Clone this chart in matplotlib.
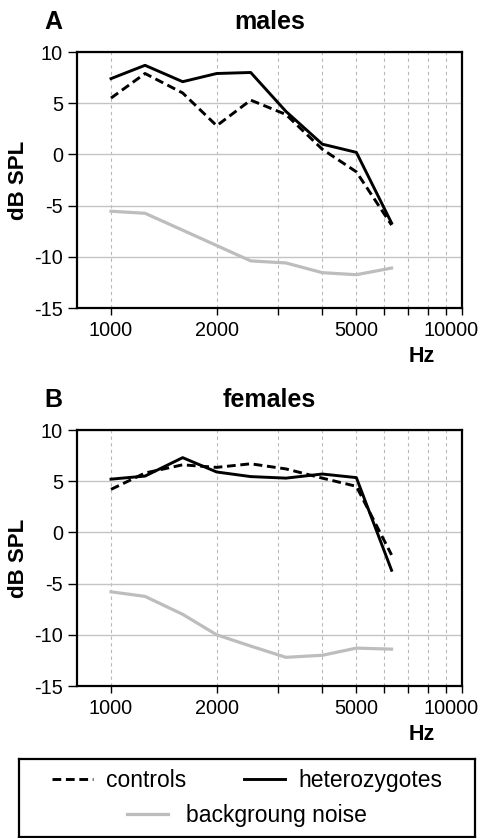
import matplotlib
matplotlib.use("Agg")
import matplotlib.pyplot as plt
from matplotlib.lines import Line2D
from matplotlib.ticker import FixedLocator, NullFormatter
from matplotlib.transforms import ScaledTranslation

plt.rcParams['font.family'] = ['Liberation Sans', 'DejaVu Sans']

# third-octave frequencies (Hz)
freqs = [1000, 1250, 1600, 2000, 2500, 3150, 4000, 5000, 6300]

males_ctrl = [5.5, 7.9, 6.0, 2.8, 5.3, 3.9, 0.5, -1.7, -6.9]
males_het = [7.4, 8.7, 7.1, 7.9, 8.0, 4.2, 1.0, 0.2, -6.7]
males_noise = [-5.55, -5.75, -7.4, -8.9, -10.4, -10.6, -11.55, -11.75, -11.1]

females_ctrl = [4.2, 5.8, 6.6, 6.35, 6.7, 6.2, 5.3, 4.5, -2.2]
females_het = [5.2, 5.5, 7.3, 5.9, 5.45, 5.3, 5.7, 5.35, -3.7]
females_noise = [-5.8, -6.25, -8.0, -10.0, -11.1, -12.2, -12.0, -11.3, -11.4]

x_major = [1000, 2000, 5000, 10000]
x_minor = [3000, 4000, 6000, 7000, 8000, 9000]
y_ticks = [-15, -10, -5, 0, 5, 10]

panels = [('A', 'males', males_ctrl, males_het, males_noise),
          ('B', 'females', females_ctrl, females_het, females_noise)]

W, H = 484, 838
fig = plt.figure(figsize=(W / 100, H / 100), dpi=100)

grey = '#bdbdbd'
dash = (0, (3.0, 1.6))

axes_rects = [(77, 52, 462, 308), (77, 430, 462, 686)]

for (letter, title, ctrl, het, noise), (x0, y0, x1, y1) in zip(panels, axes_rects):
    ax = fig.add_axes([x0 / W, 1 - y1 / H, (x1 - x0) / W, (y1 - y0) / H])
    ax.set_xscale('log')
    ax.set_xlim(800, 10000)
    ax.set_ylim(-15, 10)

    ax.plot(freqs, noise, color=grey, lw=2.3, solid_joinstyle='round', zorder=3)
    ax.plot(freqs, ctrl, color='black', lw=2.1, linestyle=dash, zorder=4)
    ax.plot(freqs, het, color='black', lw=2.1, zorder=5)

    ax.xaxis.set_major_locator(FixedLocator(x_major))
    ax.xaxis.set_minor_locator(FixedLocator(x_minor))
    ax.xaxis.set_minor_formatter(NullFormatter())
    ax.set_xticklabels([str(v) for v in x_major])
    ax.set_yticks(y_ticks)
    ax.set_yticklabels([str(v) for v in y_ticks])

    ax.tick_params(axis='both', which='both', direction='out', color='black',
                   labelsize=14.3, width=1.0)
    ax.tick_params(axis='y', length=6.5, pad=3.5)
    ax.tick_params(axis='x', which='both', length=5, pad=4)

    # last label sits left of its tick, as in the original
    last = ax.get_xticklabels()[-1]
    last.set_transform(last.get_transform() + ScaledTranslation(-11 / 100, 0, fig.dpi_scale_trans))

    ax.grid(axis='y', color='#c4c4c4', lw=1.0, linestyle='-')
    ax.grid(axis='x', which='both', color='#b8b8b8', lw=0.8, linestyle=(0, (3, 3)))
    ax.set_axisbelow(True)
    for sp in ax.spines.values():
        sp.set_linewidth(1.6)
        sp.set_color('black')

    ax.set_ylabel('dB SPL', fontsize=16, fontweight='bold')
    ax.yaxis.set_label_coords(-0.125, 0.5)

    ax.text(0.896, -0.19, 'Hz', transform=ax.transAxes, fontsize=15.5,
            fontweight='bold', ha='center', va='center')
    ax.text(0.5, 1 + 30 / (y1 - y0), title, transform=ax.transAxes, fontsize=18,
            fontweight='bold', ha='center', va='center')
    ax.text((53 - x0) / (x1 - x0), 1 + 30 / (y1 - y0), letter, transform=ax.transAxes,
            fontsize=18, fontweight='bold', ha='center', va='center')

# legend box at the bottom
lax = fig.add_axes([19 / W, 1 - 837 / H, 456 / W, 78 / H])
lax.set_xticks([])
lax.set_yticks([])
for sp in lax.spines.values():
    sp.set_linewidth(1.6)
lax.patch.set_alpha(0)

h_ctrl = Line2D([], [], color='black', lw=2.1, linestyle=dash)
h_het = Line2D([], [], color='black', lw=2.1)
h_noise = Line2D([], [], color=grey, lw=2.3)

leg1 = lax.legend([h_ctrl, h_het], ['controls', 'heterozygotes'], ncol=2,
                  frameon=False, loc='center', bbox_to_anchor=(0.5, 0.72),
                  fontsize=16.5, handlelength=1.8, handletextpad=0.57,
                  columnspacing=2.5)
lax.add_artist(leg1)
lax.legend([h_noise], ['backgroung noise'], frameon=False, loc='center',
           bbox_to_anchor=(0.5, 0.28), fontsize=16.5, handlelength=1.8,
           handletextpad=0.8)

fig.savefig('out.png', dpi=100)
